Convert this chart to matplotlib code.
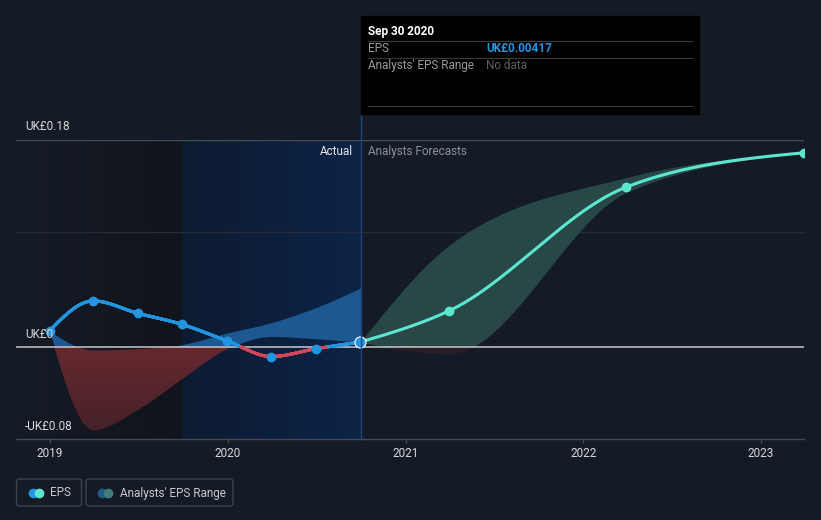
import numpy as np
import matplotlib
matplotlib.use("Agg")
import matplotlib.pyplot as plt
import matplotlib.dates as mdates
from matplotlib.collections import LineCollection
from matplotlib.lines import Line2D
from matplotlib.patches import Rectangle, FancyBboxPatch, PathPatch

plt.rcParams["font.family"] = ["Roboto", "DejaVu Sans"]

# ---- data ----
eps_dates = ["2018-12-31", "2019-03-31", "2019-06-30", "2019-09-30",
             "2019-12-31", "2020-03-31", "2020-06-30", "2020-09-30"]
eps_vals = [0.0139, 0.0399, 0.0292, 0.0194, 0.0052, -0.0084, -0.0017, 0.00417]
past_low = [0.0139, -0.0725, -0.055, -0.028, -0.002, 0.009, 0.007, 0.00417]
past_high = [0.0139, -0.003, -0.002, 0.002, 0.012, 0.021, 0.034, 0.051]

fc_dates = ["2020-09-30", "2021-03-31", "2022-03-31", "2023-03-31"]
fc_vals = [0.00417, 0.0312, 0.1388, 0.1685]
fc_low = [0.00417, -0.006, 0.134, 0.1685]
fc_high = [0.00417, 0.088, 0.147, 0.1685]

year_ticks = ["2019-01-01", "2020-01-01", "2021-01-01", "2022-01-01", "2023-01-01"]
year_labels = ["2019", "2020", "2021", "2022", "2023"]
y_labels = {0.18: "UK£0.18", 0.0: "UK£0", -0.08: "-UK£0.08"}

# ---- colours ----
BG = "#151b26"
BLUE = "#2394df"
RED = "#d4475a"
TEAL = "#5de6cf"
TXT = "#d8d8d8"

W, H = 821, 520


def d2n(ds):
    return mdates.date2num(np.array(ds, dtype="datetime64[D]"))


def monotone(xs, ys, n=80):
    # d3 curveMonotoneX
    xs = np.asarray(xs, float)
    ys = np.asarray(ys, float)
    h = np.diff(xs)
    s = np.diff(ys) / h
    m = np.zeros(len(xs))
    for i in range(1, len(xs) - 1):
        p = (s[i - 1] * h[i] + s[i] * h[i - 1]) / (h[i - 1] + h[i])
        m[i] = (np.sign(s[i - 1]) + np.sign(s[i])) * min(abs(s[i - 1]), abs(s[i]), 0.5 * abs(p))
    m[0] = (3 * s[0] - m[1]) / 2
    m[-1] = (3 * s[-1] - m[-2]) / 2
    out_x, out_y = [], []
    t = np.linspace(0, 1, n)
    for i in range(len(xs) - 1):
        h00 = 2 * t**3 - 3 * t**2 + 1
        h10 = t**3 - 2 * t**2 + t
        h01 = -2 * t**3 + 3 * t**2
        h11 = t**3 - t**2
        yy = h00 * ys[i] + h10 * h[i] * m[i] + h01 * ys[i + 1] + h11 * h[i] * m[i + 1]
        xx = xs[i] + t * h[i]
        if i > 0:
            xx, yy = xx[1:], yy[1:]
        out_x.append(xx)
        out_y.append(yy)
    return np.concatenate(out_x), np.concatenate(out_y)


fig = plt.figure(figsize=(W / 100, H / 100), dpi=100, facecolor=BG)
ax = fig.add_axes([16 / W, (H - 439) / H, (804 - 16) / W, (439 - 139.5) / H])
ax.set_facecolor(BG)

ex = d2n(eps_dates)
fx = d2n(fc_dates)
x_left = d2n(["2018-10-23"])[0]
x_right = fx[-1]
x_split = d2n(["2019-09-30"])[0]

# background regions
dark = np.linspace(np.array([0x15, 0x1b, 0x26]), np.array([0x10, 0x14, 0x1b]), 100) / 255
ax.imshow(dark[None, :, :], extent=[x_left, x_split, -0.08, 0.18], aspect="auto", zorder=0)
blue = np.linspace(np.array([0x0e, 0x1b, 0x32]), np.array([0x0c, 0x24, 0x47]), 100) / 255
ax.imshow(blue[None, :, :], extent=[x_split, ex[-1], -0.08, 0.18], aspect="auto", zorder=0)

# grid
ax.axhline(0.18, color="#474c56", lw=1, zorder=1)
ax.axhline(0.1, color="#262c37", lw=1, zorder=1)

# past analyst band
bx, blo = monotone(ex, past_low)
_, bhi = monotone(ex, past_high)
ax.fill_between(bx, np.maximum(blo, 0), np.maximum(bhi, 0), color="#1d5891", lw=0, zorder=2)
red_poly = ax.fill_between(bx, np.minimum(blo, 0), np.minimum(bhi, 0), color="none", lw=0, zorder=2)
red_grad = np.linspace(np.array([0x68, 0x27, 0x2f]), np.array([0x44, 0x22, 0x28]), 100)[:, None, :] / 255
im = ax.imshow(red_grad, extent=[ex[0], ex[-1], -0.075, 0.0], aspect="auto", zorder=2)
im.set_clip_path(PathPatch(red_poly.get_paths()[0], transform=ax.transData))

# forecast band
gx, glo = monotone(fx, fc_low)
_, ghi = monotone(fx, fc_high)
ax.fill_between(gx, np.maximum(glo, 0), np.maximum(ghi, 0), color="#284848", lw=0, zorder=2)
ax.fill_between(gx, np.minimum(glo, 0), np.minimum(ghi, 0), color="#2b1d26", lw=0, zorder=2)

# zero line
ax.axhline(0, color="#c8c8c8", lw=1.1, zorder=3)

# EPS line (blue above zero, red below)
lx, ly = monotone(ex, eps_vals, n=200)
pts = np.column_stack([lx, ly])
segs = np.stack([pts[:-1], pts[1:]], axis=1)
cols = [BLUE if (a + b) / 2 >= 0 else RED for a, b in zip(ly[:-1], ly[1:])]
ax.add_collection(LineCollection(segs, colors=cols, lw=2.2, capstyle="round", joinstyle="round", zorder=4))
ax.plot(ex[:-1], eps_vals[:-1], "o", color=BLUE, ms=6, zorder=5)

# forecast line
tx, ty = monotone(fx, fc_vals, n=200)
ax.plot(tx, ty, color=TEAL, lw=2.2, solid_capstyle="round", zorder=4)
ax.plot(fx[1:], fc_vals[1:], "o", color=TEAL, ms=6, zorder=5)
ax.plot([ex[-1]], [eps_vals[-1]], marker="o", ls="", markerfacecolor=BLUE,
        markeredgecolor="white", markeredgewidth=0.8, markersize=8, zorder=6)

# axes styling
ax.set_xlim(x_left, x_right)
ax.set_ylim(-0.08, 0.18)
for side in ["top", "left", "right"]:
    ax.spines[side].set_visible(False)
ax.spines["bottom"].set_color("#434955")
ax.spines["bottom"].set_linewidth(1)
ax.set_yticks([])
ax.set_xticks(d2n(year_ticks))
ax.set_xticklabels(year_labels)
ax.tick_params(axis="x", colors="#434955", length=3, width=1, pad=3, labelsize=8.5, labelcolor=TXT)

for v, lab in y_labels.items():
    ax.annotate(lab, xy=(0, v), xycoords=("axes fraction", "data"), xytext=(9, 12.5),
                textcoords="offset pixels", va="center", ha="left", color=TXT, fontsize=8.5, zorder=7)

ax.text(ex[-1] - 16, 0.1696, "Actual", ha="right", va="center", color="#e6e6e6", fontsize=8.5)
ax.text(ex[-1] + 16, 0.1696, "Analysts Forecasts", ha="left", va="center", color="#8a8f98", fontsize=8.5)


def fp(x, y):
    return x / W, 1 - y / H


# vertical marker line
fig.add_artist(Line2D([360.5 / W, 360.5 / W], [1 - 114 / H, 1 - 439 / H], color="#1b4680", lw=1, zorder=1))

# tooltip
fig.add_artist(Rectangle(fp(361, 114), (699 - 361) / W, (114 - 16) / H, color="black", zorder=10))
for yy in [40.5, 57.5, 106.5]:
    fig.add_artist(Line2D([368 / W, 692 / W], [1 - yy / H] * 2, color="#3a3a3a", lw=0.8, zorder=11))
fig.text(*fp(368, 31), "Sep 30 2020", color="white", fontsize=8.5, fontweight="bold", va="center", zorder=12)
fig.text(*fp(368, 48.5), "EPS", color="#9a9a9a", fontsize=8.5, va="center", zorder=12)
fig.text(*fp(486, 48.5), "UK£0.00417", color=BLUE, fontsize=8.5, fontweight="bold", va="center", zorder=12)
fig.text(*fp(368, 65.5), "Analysts' EPS Range", color="#9a9a9a", fontsize=8.5, va="center", zorder=12)
fig.text(*fp(486, 65.5), "No data", color="#5f5f5f", fontsize=8.5, va="center", zorder=12)

# legend
for x0, x1 in [(16.5, 81.5), (86, 233)]:
    fig.add_artist(FancyBboxPatch(fp(x0, 506), (x1 - x0) / W, (506 - 479) / H,
                                  boxstyle="round,pad=0,rounding_size=0.004",
                                  fc="none", ec="#3d424c", lw=1))
for cx, c in [(32.5, BLUE), (38.5, TEAL), (101.5, "#1f5a8c"), (107.5, "#3f7e7a")]:
    fig.add_artist(Line2D([cx / W], [1 - 493 / H], marker="o", ms=7, color=c, mew=0, ls=""))
fig.text(*fp(50, 493), "EPS", color="#c8c8c8", fontsize=8.5, va="center")
fig.text(*fp(120, 493), "Analysts' EPS Range", color="#c8c8c8", fontsize=8.5, va="center")

fig.savefig("out.png", dpi=100, facecolor=BG)
